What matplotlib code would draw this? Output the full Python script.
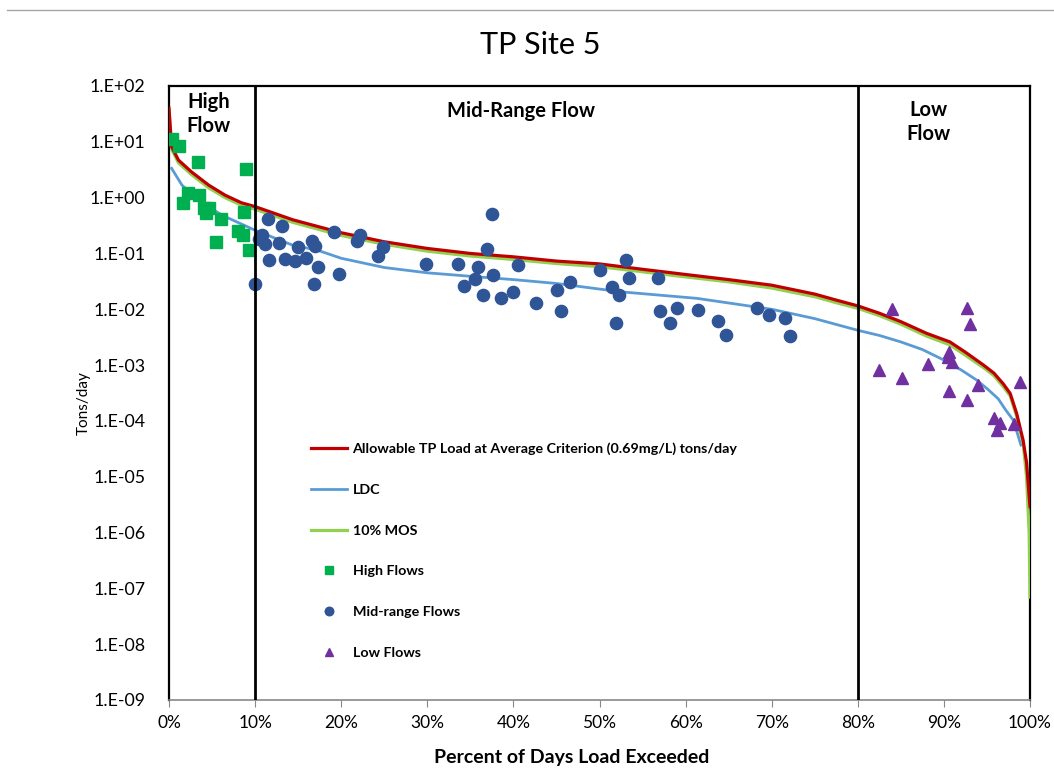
import math
import matplotlib
matplotlib.use("Agg")
import matplotlib.pyplot as plt
from matplotlib.lines import Line2D
from matplotlib.ticker import FuncFormatter, FixedLocator

plt.rcParams['font.family'] = ['Lato', 'DejaVu Sans']

# allowable load curve (red)
red_x = [0.0, 0.3, 1.1, 2.6, 4.6, 6.5, 8.4, 10.0, 14.4, 20, 25, 30, 35, 40, 45, 50, 55, 60, 65, 70, 75, 77.5,
         80, 82.5, 85, 88, 90.7, 92.5, 94.6, 95.8, 96.9, 97.7, 98.45, 99.2, 99.6, 100.0]
red_y = [40, 8.2, 4.7, 2.9, 1.68, 1.11, 0.81, 0.69, 0.40, 0.235, 0.162, 0.123, 0.100, 0.087, 0.073, 0.065,
         0.052, 0.042, 0.034, 0.027, 0.0187, 0.0146, 0.0115, 0.0085, 0.0060, 0.0037, 0.0026, 0.0017, 0.00100,
         0.00072, 0.00046, 0.00031, 0.000136, 4.5e-5, 1.8e-5, 2.9e-6]

# 10% MOS (green)
mos_x = [0.0, 0.3, 1.1, 2.6, 4.6, 6.5, 8.4, 10.0, 14.4, 20, 25, 30, 35, 40, 45, 50, 55, 60, 65, 70, 75, 77.5,
         80, 82.5, 85, 88, 90.7, 92.5, 94.6, 95.8, 96.9, 97.7, 98.45, 99.2, 99.6, 99.9, 100.0]
mos_y = [36, 7.4, 4.2, 2.6, 1.5, 1.0, 0.73, 0.62, 0.36, 0.21, 0.146, 0.110, 0.090, 0.078, 0.066, 0.058,
         0.047, 0.038, 0.031, 0.024, 0.0168, 0.0131, 0.0104, 0.0077, 0.0054, 0.0033, 0.0023, 0.0015, 0.00090,
         0.00065, 0.00041, 0.00028, 0.00012, 4.0e-5, 1.0e-5, 1.0e-6, 7e-8]

# LDC (blue)
ldc_x = [0.3, 1.5, 3.4, 6.1, 10.0, 14.4, 17.2, 20, 25, 30, 35, 40, 45, 52.4, 61.3, 70, 75, 80, 82.5, 85, 87.5,
         90, 92, 93.8, 95, 96.3, 97.2, 98.06, 98.95]
ldc_y = [3.35, 1.68, 0.91, 0.49, 0.26, 0.14, 0.115, 0.082, 0.056, 0.045, 0.039, 0.034, 0.029, 0.0206,
         0.0157, 0.0100, 0.0068, 0.0042, 0.0034, 0.0026, 0.0019, 0.00123, 0.00082, 0.00054, 0.00038, 0.00025,
         0.000155, 0.000103, 3.7e-5]

# sampled loads
high_x = [0.31, 1.16, 3.33, 8.98, 2.24, 3.52, 1.66, 4.10, 4.68, 4.30, 8.68, 6.0, 7.98, 8.56, 5.46, 9.29]
high_y = [11.1, 8.5, 4.4, 3.3, 1.22, 1.11, 0.81, 0.64, 0.66, 0.54, 0.55, 0.41, 0.255, 0.214, 0.162, 0.115]

mid_x = [11.53, 13.09, 10.77, 10.45, 11.15, 12.81, 15.02, 16.61, 16.99, 19.16, 22.18, 21.80, 24.82, 24.31,
         11.61, 13.47, 14.63, 15.91, 17.34, 19.78, 10.02, 16.81, 37.55, 36.90, 29.85, 33.60, 35.92, 35.54,
         37.67, 34.30, 36.50, 38.52, 39.99, 42.59, 40.57, 53.04, 50.06, 53.46, 56.76, 46.61, 45.10, 51.49,
         52.23, 45.56, 57.06, 59.00, 61.48, 51.95, 58.15, 63.73, 64.73, 68.33, 69.72, 71.58, 72.16]
mid_y = [0.413, 0.31, 0.214, 0.179, 0.147, 0.156, 0.132, 0.169, 0.136, 0.245, 0.214, 0.169, 0.132, 0.0898,
         0.0762, 0.0784, 0.0731, 0.0817, 0.0578, 0.0422, 0.0283, 0.0287, 0.514, 0.118, 0.0638, 0.0654,
         0.0563, 0.0343, 0.0405, 0.0264, 0.0180, 0.0157, 0.0201, 0.0128, 0.0612, 0.0752, 0.0510, 0.0362,
         0.0362, 0.0303, 0.0224, 0.0247, 0.0182, 0.00929, 0.00929, 0.0106, 0.00968, 0.00573, 0.00573,
         0.00615, 0.00341, 0.0106, 0.00778, 0.00688, 0.00331]

low_x = [83.94, 92.65, 93.03, 90.59, 90.51, 90.9, 88.12, 82.5, 85.17, 94.0, 98.87, 90.59, 92.72, 95.82,
         96.55, 98.1, 96.17]
low_y = [0.0101, 0.0104, 0.00536, 0.00173, 0.00141, 0.00115, 0.00104, 0.00081, 0.00059, 0.00044, 0.00049,
         0.000347, 0.000236, 0.000111, 9.02e-5, 8.87e-5, 6.84e-5]

regions = [(4.6, "High\nFlow", 0.99), (40.9, "Mid-Range Flow", 0.975), (88.2, "Low\nFlow", 0.978)]
y_exps = list(range(-9, 3))
x_ticks = list(range(0, 101, 10))

fig = plt.figure(figsize=(10.54, 7.8), dpi=100)
ax = fig.add_axes([169/1054, 80/780, 861/1054, 614/780])

ax.plot(red_x, red_y, color='#C00000', lw=2.3, label='Allowable TP Load at Average Criterion (0.69mg/L) tons/day', zorder=4)
ax.plot(ldc_x, ldc_y, color='#5B9BD5', lw=2.0, label='LDC', zorder=3)
ax.plot(mos_x, mos_y, color='#92D050', lw=2.3, label='10% MOS', zorder=3)
ax.plot(high_x, high_y, 's', color='#00B050', ms=8.2, ls='none', label='High Flows', zorder=5)
ax.plot(mid_x, mid_y, 'o', color='#2F5597', ms=8.8, ls='none', label='Mid-range Flows', zorder=5)
ax.plot(low_x, low_y, '^', color='#7030A0', ms=8.2, ls='none', label='Low Flows', zorder=5)

# flow region boxes
for xb in [10, 80]:
    ax.axvline(xb, color='black', lw=2, zorder=6)
for xc, txt, yy in regions:
    ax.text(xc, yy, txt, transform=ax.get_xaxis_transform(), ha='center', va='top',
            fontsize=14.5, fontweight='bold', linespacing=1.25)

ax.set_yscale('log')
ax.set_xlim(0, 100)
ax.set_ylim(1e-9, 1e2)
ax.yaxis.set_major_locator(FixedLocator([10.0**e for e in y_exps]))
ax.yaxis.set_minor_locator(FixedLocator([]))
ax.yaxis.set_major_formatter(FuncFormatter(lambda v, p: "1.E{:+03d}".format(int(round(math.log10(v))))))
ax.set_xticks(x_ticks)
ax.set_xticklabels([f"{t}%" for t in x_ticks])

ax.tick_params(axis='y', length=0, labelsize=12.8, pad=17)
ax.tick_params(axis='x', length=5, color='#888888', labelsize=12.5, pad=6)
for side in ['left', 'top', 'right']:
    ax.spines[side].set_color('black')
    ax.spines[side].set_linewidth(1.6)
ax.spines['bottom'].set_color('#888888')
ax.spines['bottom'].set_linewidth(1.2)

fig.text(540/1054, 1 - 45/780, 'TP Site 5', fontsize=22, ha='center', va='center')
fig.text(572/1054, 1 - 757/780, 'Percent of Days Load Exceeded', fontsize=14, fontweight='bold',
         ha='center', va='center')
fig.text(84/1054, 1 - 403/780, 'Tons/day', fontsize=11, rotation=90, ha='center', va='center')

ax.legend(loc='upper left', bbox_to_anchor=(0.15, 0.44), frameon=False,
          prop={'size': 10.3, 'weight': 'bold'}, labelspacing=2.0, handlelength=2.5,
          handletextpad=0.4, markerscale=0.7)

fig.add_artist(Line2D([7/1054, 1.0], [1 - 10/780, 1 - 10/780], color='#a6a6a6', lw=1))

fig.savefig('out.png', dpi=100)
